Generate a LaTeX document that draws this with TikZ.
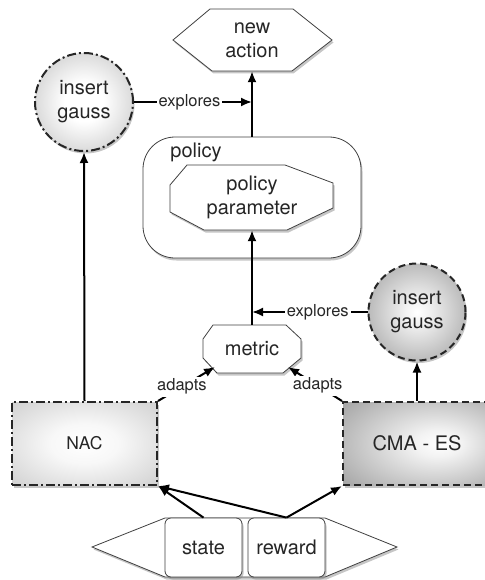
\documentclass[tikz,border=0pt]{standalone}
\usepackage{fontspec}
\setmainfont{TeX Gyre Heros}
\usetikzlibrary{shadows,arrows.meta}
\pgfdeclareradialshading{gaussLshade}{\pgfpoint{0bp}{0bp}}{color(0bp)=(white);color(10bp)=(white);color(50bp)=(black!38)}
\pgfdeclareradialshading{gaussRshade}{\pgfpoint{0bp}{0bp}}{color(0bp)=(white);color(6bp)=(white!95!black);color(50bp)=(black!55)}
\pgfdeclareradialshading{nacshade}{\pgfpoint{0bp}{0bp}}{color(0bp)=(white);color(12bp)=(white!97!black);color(70bp)=(black!40)}
\pgfdeclareradialshading{cmashade}{\pgfpoint{8bp}{0bp}}{color(0bp)=(white);color(8bp)=(white!95!black);color(70bp)=(black!68)}
\begin{document}
\begin{tikzpicture}[x=1pt,y=-1pt,
  font=\fontsize{20}{24}\selectfont,
  every node/.style={text=black!85},
  lbl/.style={font=\fontsize{16.5}{18}\selectfont, fill=white, inner sep=2pt},
  arr/.style={line width=2pt,-{Latex[length=11pt,width=9pt]}},
  shd/.style={drop shadow={shadow xshift=1.5pt,shadow yshift=-2.5pt,opacity=.45}},
  thinshape/.style={draw=black!75, line width=0.8pt, fill=white, shd},
  anchorbox/.style={inner sep=0pt, align=center},
  dashdot/.style={draw=black!85, line width=2pt, dash pattern=on 9pt off 3pt on 2pt off 3pt},
  dashline/.style={draw=black!85, line width=2pt, dash pattern=on 7pt off 4pt},
]
\useasboundingbox (0,0) rectangle (484,580);

% new action
\path[thinshape] (173,40)--(210,9)--(293,9)--(332,40)--(292,71)--(212,71)--cycle;
\node[anchorbox, minimum width=159pt, minimum height=62pt] (newaction) at (252,40) {new\\action};

% policy container
\node[thinshape, rounded corners=32pt, minimum width=218pt, minimum height=121pt] (policy) at (252,197.5) {};
\node (policylbl) at (196,152) {policy};

% policy parameter
\path[thinshape] (187,165)--(285,165)--(333,183)--(333,208)--(287,230)--(204,230)--(170,212)--(170,185)--cycle;
\node[anchorbox, minimum width=163pt, minimum height=65pt] (param) at (252,197.5) {policy\\parameter};

% metric
\path[thinshape] (213,325)--(286,325)--(301,339)--(301,358)--(283,373)--(217,373)--(203,358)--(203,339)--cycle;
\node[anchorbox, minimum width=98pt, minimum height=48pt] (metric) at (252,349) {metric};
\coordinate (mSW) at (215,367);
\coordinate (mSE) at (288,367);

% insert gauss circles
\node[circle, minimum size=98pt, anchorbox, dashdot, shading=gaussLshade, shd] (gaussL) at (84,102) {insert\\gauss};
\node[circle, minimum size=97pt, anchorbox, dashline, shading=gaussRshade, shd] (gaussR) at (417,312) {insert\\gauss};

% NAC and CMA-ES
\node[rectangle, minimum width=145pt, minimum height=83pt, dashdot, shading=nacshade, shd, font=\fontsize{17.5}{20}\selectfont] (nac) at (84.5,443.5) {NAC};
\node[rectangle, minimum width=148pt, minimum height=83pt, dashline, shading=cmashade, shd] (cma) at (417,443.5) {CMA - ES};

% state / reward
\path[thinshape] (92,547)--(165,518)--(325,518)--(397,547)--(325,577)--(165,577)--cycle;
\node[thinshape, rounded corners=6pt, minimum width=77pt, minimum height=59pt, inner sep=0pt] (state) at (203.5,547.5) {state};
\node[thinshape, rounded corners=6pt, minimum width=77pt, minimum height=59pt, inner sep=0pt] (reward) at (286.5,547.5) {reward};

% connectors
\draw[arr] (policy.north) -- (newaction.south);
\draw[arr] (metric.north) -- (param.south);
\draw[arr] (nac.north) -- (gaussL.south);
\draw[arr] (cma.north) -- (gaussR.south);
\draw[arr] (gaussL.east) -- (gaussL.east -| policy.north) node[lbl, pos=.47] {explores};
\draw[arr] (gaussR.west) -- (gaussR.west -| metric.north) node[lbl, pos=.43] {explores};
\draw[arr] (nac.north east) -- (mSW) node[lbl, pos=.42] {adapts};
\draw[arr] (cma.north west) -- (mSE) node[lbl, pos=.45] {adapts};
\draw[arr] (state.north) -- (nac.south east);
\draw[arr] (reward.north) -- (nac.south east);
\draw[arr] (reward.north) -- (cma.south west);
\end{tikzpicture}
\end{document}
